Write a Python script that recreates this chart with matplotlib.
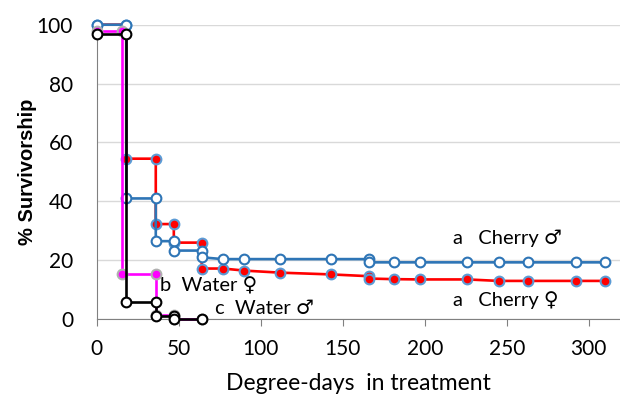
import matplotlib
matplotlib.use("Agg")
import matplotlib.pyplot as plt

# survivorship curves (degree-days, % surviving)
cherry_m_x = [0, 18, 18, 36, 36, 47, 47, 64, 64, 77, 90, 112, 143, 166, 166, 181, 197, 226, 245, 263, 292, 310]
cherry_m_y = [100, 100, 41, 41, 26.5, 26.5, 23.3, 23.3, 21, 20.4, 20.4, 20.4, 20.4, 20.4, 19.3, 19.3, 19.3, 19.3, 19.3, 19.3, 19.3, 19.3]

cherry_f_x = [0, 18, 18, 36, 36, 47, 47, 64, 64, 77, 90, 112, 143, 166, 166, 181, 197, 226, 245, 263, 292, 310]
cherry_f_y = [100, 100, 54.5, 54.5, 32.3, 32.3, 26, 26, 17.2, 17.2, 16.5, 15.8, 15.2, 14.6, 13.8, 13.6, 13.5, 13.5, 13, 13, 13, 13]

water_f_x = [0, 15.5, 15.5, 36, 36, 47, 47, 64]
water_f_y = [97.7, 97.7, 15.2, 15.2, 1.3, 1.3, 0, 0]

water_m_x = [0, 18, 18, 36, 36, 47, 47, 64]
water_m_y = [96.8, 96.8, 5.8, 5.8, 1.2, 1.2, 0, 0]

labels = ["a   Cherry \u2642", "a   Cherry \u2640", "b  Water \u2640", "c  Water \u2642"]
label_xy = [(217, 27.5), (217, 6.4), (38.5, 11.2), (72, 3.7)]

fig = plt.figure(figsize=(6.2, 3.98), dpi=100)
ax = fig.add_axes([0.156, 0.198, 0.844, 0.74])

blue = "#2e75b6"
lw = 1.9
ms = 7
ax.plot(cherry_f_x, cherry_f_y, color="red", lw=lw, marker="o", ms=ms,
        mfc="red", mec="#5b9bd5", mew=1.5, clip_on=False, zorder=3)
ax.plot(cherry_m_x, cherry_m_y, color=blue, lw=lw, marker="o", ms=ms,
        mfc="white", mec=blue, mew=1.5, clip_on=False, zorder=4)
ax.plot(water_f_x, water_f_y, color="#ff00ff", lw=lw, marker="o", ms=ms,
        mfc="#ff00ff", mec="#b0b0b0", mew=1.5, clip_on=False, zorder=5)
ax.plot(water_m_x, water_m_y, color="black", lw=lw, marker="o", ms=ms,
        mfc="white", mec="black", mew=1.5, clip_on=False, zorder=6)

for t, (x, y) in zip(labels, label_xy):
    ax.text(x, y, t, fontsize=14.5, family=["Lato", "DejaVu Sans"], va="center", ha="left")

ax.set_xlim(0, 319)
ax.set_ylim(0, 100)
ax.set_xticks(range(0, 301, 50))
ax.set_yticks(range(0, 101, 20))
ax.yaxis.grid(True, color="#d9d9d9", lw=1)
ax.set_axisbelow(True)
for s in ["top", "right"]:
    ax.spines[s].set_visible(False)
ax.spines["left"].set_color("#808080")
ax.spines["bottom"].set_color("#808080")
ax.tick_params(axis="y", length=0, pad=17, labelsize=15)
ax.tick_params(axis="x", length=5, color="#808080", pad=9, labelsize=15)
for lab in ax.get_xticklabels() + ax.get_yticklabels():
    lab.set_family("Lato")

ax.set_xlabel("Degree-days  in treatment", fontsize=16.5, family="Lato", labelpad=10)
ax.set_ylabel("% Survivorship", fontsize=14.5, fontweight="bold", family="Liberation Sans", labelpad=0)

fig.savefig("out.png", dpi=100)
